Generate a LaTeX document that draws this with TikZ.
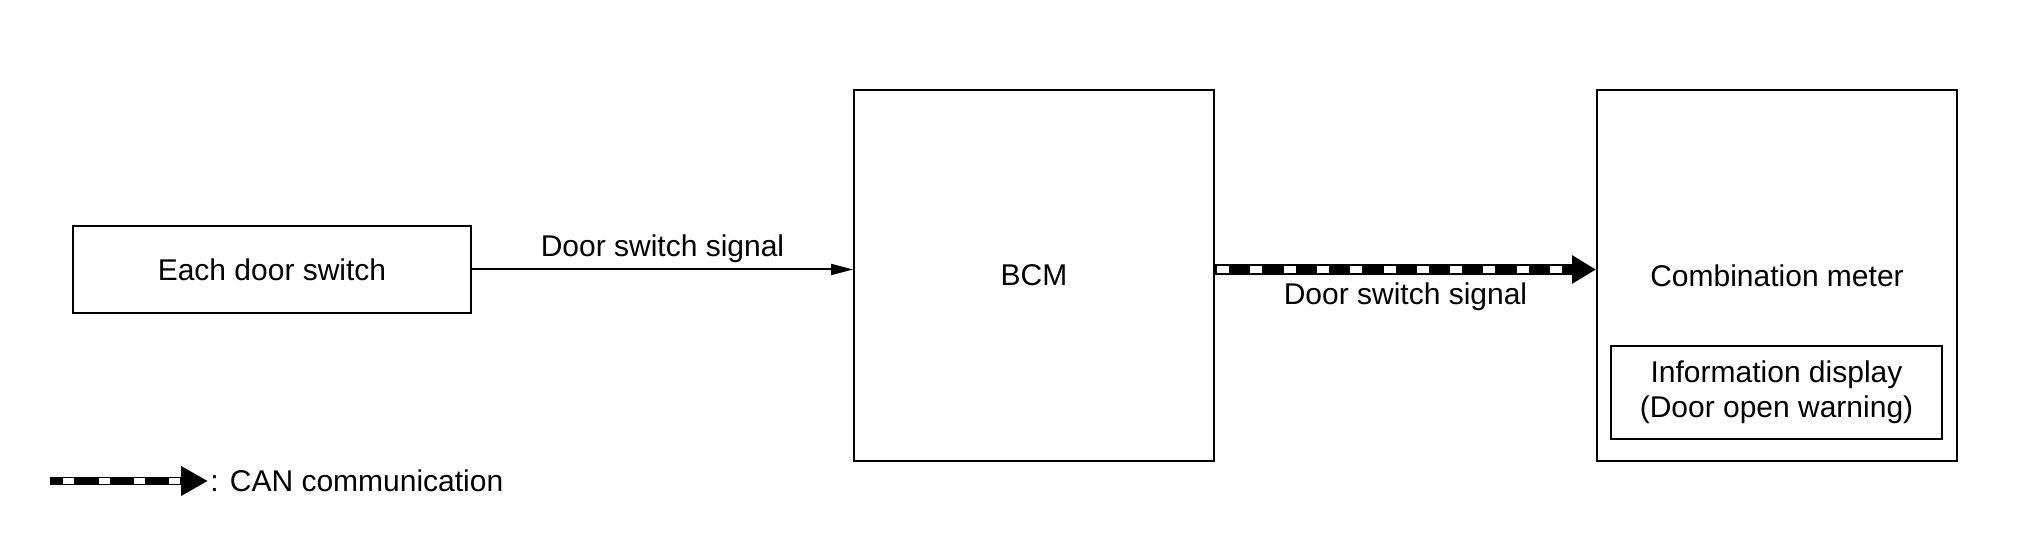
\documentclass[tikz,border=0pt]{standalone}
\usepackage{fontspec}
\setmainfont{Liberation Sans}
\usetikzlibrary{arrows.meta}
\begin{document}
\begin{tikzpicture}[x=0.5pt,y=-0.5pt,
  font=\fontsize{15}{17.5}\selectfont,
  box/.style={draw, line width=1pt, inner sep=0pt, anchor=center},
  sig/.style={line width=1pt, -{Triangle[length=11pt,width=5.5pt]}},
  canbar/.style={line width=5.5pt, -{Triangle[length=12pt,width=13.5pt]}},
  canwhite/.style={white, line width=3.2pt, shorten >=12pt, dash pattern=on 6pt off 10.65pt, dash phase=15.65pt},
  legbar/.style={line width=4.4pt, -{Triangle[length=13.5pt,width=14pt]}},
  legwhite/.style={white, line width=2.8pt, shorten >=13.5pt, dash pattern=on 5.5pt off 12.15pt, dash phase=11pt}
]
\useasboundingbox (0,0) rectangle (2020,544);
\fill[white] (0,0) rectangle (2020,544);

\node[box, minimum width=199pt, minimum height=43.5pt] (eds) at (272,269.5) {Each door switch};
\node[box, minimum width=180pt, minimum height=185.5pt] (bcm) at (1034,275.5) {BCM};
\node[box, minimum width=180pt, minimum height=185.5pt] (cm) at (1777,275.5) {Combination meter};
\node[box, minimum width=165.5pt, minimum height=46.5pt, align=center] (info) at (1776.5,392.5) {Information display\\(Door open warning)};

\draw[sig] (eds.east) -- (eds.east -| bcm.west)
  node[midway, anchor=base, yshift=6.5pt] (lab1) {Door switch signal};

\draw[canbar] (bcm.east |- eds.east) -- (eds.east -| cm.west)
  node[midway, anchor=base, yshift=-17.75pt] (lab2) {Door switch signal};
\draw[canwhite] (bcm.east |- eds.east) -- (eds.east -| cm.west);

\coordinate (ls) at (50,481);
\node[anchor=base west, inner xsep=1pt, inner ysep=0pt] (leg) at (208,491.7) {: CAN communication};
\draw[legbar] (ls) -- (ls -| leg.west);
\draw[legwhite] (ls) -- (ls -| leg.west);
\end{tikzpicture}
\end{document}
